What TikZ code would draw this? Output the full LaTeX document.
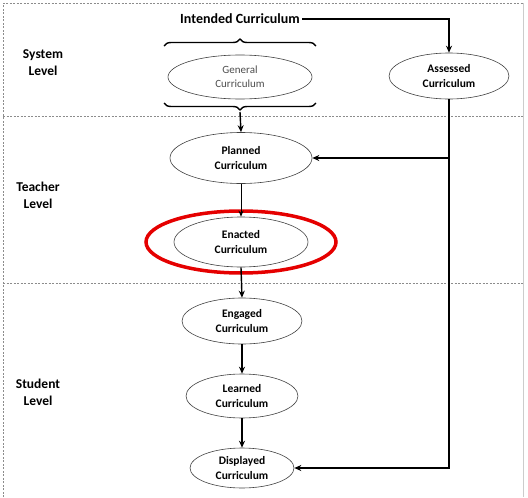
\documentclass[tikz,border=0pt]{standalone}
\usepackage{fontspec}
\setmainfont{Carlito}
\usetikzlibrary{arrows.meta,decorations.pathreplacing,shapes.geometric}
\begin{document}
\begin{tikzpicture}[x=1pt,y=-1pt,
  curr/.style={ellipse,draw=black!75,line width=0.6pt,inner sep=0pt,align=center,font=\bfseries\fontsize{11.5}{14.5}\selectfont},
  lvl/.style={align=center,font=\bfseries\fontsize{13.5}{17}\selectfont},
  arr/.style={line width=1.4pt,-{Stealth[length=7pt,width=6pt]}},
  thinarr/.style={line width=0.9pt,-{Stealth[length=6pt,width=5pt]}},
  frame/.style={black!45,dash pattern=on 2pt off 1.5pt,line width=0.7pt},
  brc/.style={decorate,decoration={brace,amplitude=7pt},line width=1.4pt}]
\useasboundingbox (0,0) rectangle (528,498);
% frame
\draw[frame] (3,497) -- (3,3) -- (523,3);
\draw[frame] (3,116) -- (523,116);
\draw[frame] (3,283) -- (523,283);
\draw[black!20,line width=0.7pt] (523,3) -- (523,497);
% level labels
\node[lvl] (sys) at (43,63) {System\\Level};
\node[lvl] (tea) at (38,195) {Teacher\\Level};
\node[lvl] (stu) at (38,392) {Student\\Level};
% nodes
\node[font=\bfseries\fontsize{14}{16}\selectfont,inner sep=2pt] (int) at (240,19) {Intended Curriculum};
\node[curr,minimum width=144pt,minimum height=44pt,font=\fontsize{11}{14}\selectfont,text=black!70] (gen) at (240,77) {General\\Curriculum};
\node[curr,minimum width=120pt,minimum height=46pt] (ass) at (449,76) {Assessed\\Curriculum};
\node[curr,minimum width=142pt,minimum height=51pt] (pla) at (241,158) {Planned\\Curriculum};
\node[curr,minimum width=134pt,minimum height=50pt] (ena) at (241,242) {Enacted\\Curriculum};
\node[curr,minimum width=120pt,minimum height=46pt] (eng) at (242,321) {Engaged\\Curriculum};
\node[curr,minimum width=112pt,minimum height=44pt] (lea) at (242,396) {Learned\\Curriculum};
\node[curr,minimum width=104pt,minimum height=40pt] (dis) at (242,468) {Displayed\\Curriculum};
% red highlight
\draw[red!90!black,line width=3.5pt] (ena.center) ellipse [x radius=95pt,y radius=31pt];
% braces
\coordinate (b1l) at (164,46);
\coordinate (b1r) at (316,46);
\coordinate (b2l) at (164,103);
\coordinate (b2r) at (316,103);
\coordinate (b2t) at (240,112);
\draw[brc] (b1l) -- (b1r);
\draw[brc] (b2r) -- (b2l);
% connectors
\draw[arr] (int.east) -| (ass.north);
\draw[arr] (b2t) -- (pla.north);
\draw[thinarr] (pla.south) -- (ena.north);
\draw[arr] (ena.south) -- (eng.north);
\draw[arr] (eng.south) -- (lea.north);
\draw[arr] (lea.south) -- (dis.north);
\coordinate (jn) at (ass.south |- pla.east);
\draw[arr] (ass.south) |- (dis.east);
\draw[arr] (jn) -- (pla.east);
\end{tikzpicture}
\end{document}
